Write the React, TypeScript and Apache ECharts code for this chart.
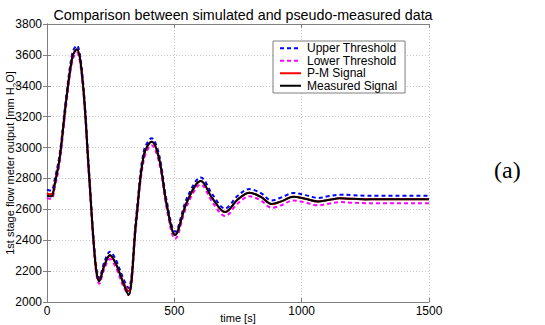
import React, { useEffect, useRef } from "react";
import * as echarts from "echarts";

const times = [0, 10, 20, 30, 50, 75, 100, 117, 140, 165, 190, 205, 225, 247, 270, 300, 320, 350, 380, 411, 440, 470, 503, 550, 604, 650, 699, 750, 795, 840, 882, 925, 967, 1015, 1064, 1110, 1150, 1200, 1250, 1300, 1350, 1400, 1450, 1500];

const upperThreshold = [2728, 2722, 2725, 2790, 2960, 3325, 3615, 3660, 3455, 2855, 2275, 2155, 2258, 2326, 2275, 2150, 2090, 2555, 2975, 3060, 2955, 2655, 2455, 2675, 2806, 2695, 2606, 2690, 2731, 2705, 2658, 2680, 2706, 2692, 2674, 2686, 2695, 2692, 2688, 2688, 2688, 2688, 2688, 2688];

const lowerThreshold = [2675, 2668, 2670, 2735, 2905, 3270, 3565, 3615, 3405, 2800, 2230, 2118, 2215, 2278, 2225, 2100, 2045, 2495, 2920, 3015, 2905, 2605, 2410, 2625, 2760, 2645, 2557, 2640, 2684, 2657, 2610, 2630, 2658, 2644, 2626, 2638, 2647, 2643, 2640, 2640, 2639, 2639, 2639, 2639];

const pmSignal = [2705, 2698, 2700, 2762, 2935, 3300, 3590, 3637, 3430, 2828, 2252, 2138, 2236, 2300, 2248, 2128, 2070, 2528, 2950, 3038, 2930, 2630, 2434, 2650, 2783, 2670, 2582, 2665, 2708, 2681, 2634, 2655, 2682, 2668, 2650, 2662, 2671, 2668, 2665, 2665, 2665, 2665, 2665, 2665];

const measuredSignal = [2690, 2684, 2686, 2760, 2935, 3300, 3590, 3636, 3430, 2830, 2250, 2135, 2235, 2304, 2250, 2120, 2045, 2520, 2950, 3038, 2930, 2630, 2434, 2650, 2783, 2670, 2582, 2665, 2708, 2680, 2635, 2655, 2682, 2668, 2650, 2662, 2671, 2668, 2664, 2665, 2665, 2665, 2665, 2665];

const seriesNames = ["Upper Threshold", "Lower Threshold", "P-M Signal", "Measured Signal"];

const pairs = (vals: number[]) => times.map((t, i) => [t, vals[i]]);

const FONT = "'Liberation Sans', Arial, sans-serif";

export default function App() {
  const ref = useRef<HTMLDivElement>(null);
  useEffect(() => {
    if (!ref.current) return;
    const chart = echarts.init(ref.current, undefined, { renderer: "svg" });
    const axisCommon = {
      axisLine: { show: true, lineStyle: { color: "#7f7f7f", width: 1 } },
      axisTick: { show: true, inside: true, length: 4, lineStyle: { color: "#7f7f7f" } },
    };
    const plain = (v: number) => String(v);
    chart.setOption({
      animation: false,
      backgroundColor: "#ffffff",
      title: {
        text: "Comparison between simulated and pseudo-measured data",
        left: 238,
        textAlign: "center",
        top: 3,
        textStyle: { fontFamily: FONT, fontSize: 14.3, fontWeight: "normal", color: "#000" },
      },
      grid: { left: 47, right: 116, top: 24, bottom: 23, containLabel: false, outerBoundsMode: "none" },
      legend: {
        orient: "vertical",
        left: 273,
        top: 41,
        width: 131,
        padding: [1, 8, 1, 6],
        itemGap: 0,
        itemWidth: 21,
        itemHeight: 10,
        borderColor: "#7f7f7f",
        borderWidth: 1,
        backgroundColor: "#fff",
        itemStyle: { opacity: 0 },
        textStyle: { fontFamily: FONT, fontSize: 12, lineHeight: 12.5, color: "#000", padding: [0, 0, 0, 1] },
        data: seriesNames,
      },
      xAxis: [
        {
          type: "value",
          min: 0,
          max: 1500,
          interval: 500,
          name: "time [s]",
          nameLocation: "middle",
          nameGap: 10,
          nameMoveOverlap: false,
          nameTextStyle: { fontFamily: FONT, fontSize: 11, color: "#000" },
          ...axisCommon,
          axisLabel: { fontFamily: FONT, fontSize: 12, color: "#000", margin: 3, formatter: plain },
          splitLine: { show: true, lineStyle: { color: "#c8c8c8", type: [1, 2] } },
        },
        {
          type: "value",
          position: "top",
          min: 0,
          max: 1500,
          interval: 500,
          ...axisCommon,
          axisLabel: { show: false },
          splitLine: { show: false },
        },
      ],
      yAxis: [
        {
          type: "value",
          min: 2000,
          max: 3800,
          interval: 200,
          name: "1st stage flow meter output [mm H{sub|2}O]",
          nameLocation: "middle",
          nameGap: 32,
          nameMoveOverlap: false,
          nameTextStyle: {
            fontFamily: FONT,
            fontSize: 11,
            color: "#000",
            rich: { sub: { fontFamily: FONT, fontSize: 8, color: "#000", verticalAlign: "bottom", padding: [0, 0, -4, 0] } },
          },
          ...axisCommon,
          axisLabel: { fontFamily: FONT, fontSize: 12, color: "#000", margin: 5, formatter: plain },
          splitLine: { show: true, lineStyle: { color: "#c8c8c8", type: [1, 2] } },
        },
        {
          type: "value",
          position: "right",
          min: 2000,
          max: 3800,
          interval: 200,
          ...axisCommon,
          axisLabel: { show: false },
          splitLine: { show: false },
        },
      ],
      graphic: [
        {
          type: "text",
          left: 494,
          top: 158,
          style: { text: "(a)", font: "24px 'Liberation Serif', 'Times New Roman', serif", fill: "#000" },
        },
      ],
      series: [
        {
          name: seriesNames[0],
          type: "line",
          data: pairs(upperThreshold),
          smooth: 0.35,
          symbol: "none",
          lineStyle: { color: "#0000ff", width: 2, type: [4, 3] },
          itemStyle: { color: "#0000ff" },
        },
        {
          name: seriesNames[1],
          type: "line",
          data: pairs(lowerThreshold),
          smooth: 0.35,
          symbol: "none",
          lineStyle: { color: "#ff00ff", width: 2, type: [4, 3] },
          itemStyle: { color: "#ff00ff" },
        },
        {
          name: seriesNames[2],
          type: "line",
          data: pairs(pmSignal),
          smooth: 0.35,
          symbol: "none",
          lineStyle: { color: "#ff0000", width: 2 },
          itemStyle: { color: "#ff0000" },
        },
        {
          name: seriesNames[3],
          type: "line",
          data: pairs(measuredSignal),
          smooth: 0.35,
          symbol: "none",
          lineStyle: { color: "#000000", width: 2 },
          itemStyle: { color: "#000000" },
        },
      ],
    });
    return () => chart.dispose();
  }, []);
  return <div ref={ref} style={{ width: 545, height: 325, position: "absolute", left: 0, top: 0 }} />;
}
